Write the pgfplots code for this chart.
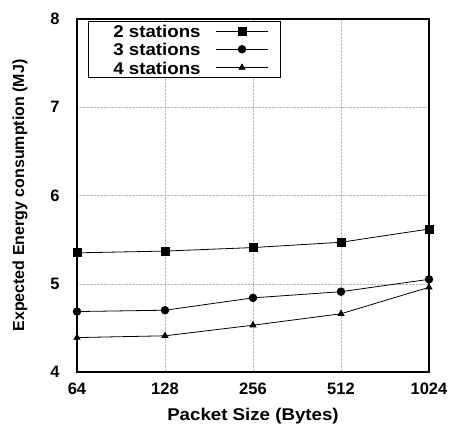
\documentclass[border=0pt]{standalone}
\usepackage{fontspec}
\setmainfont{Liberation Sans}
\newfontfamily\widefont[FakeStretch=1.1]{Liberation Sans}
\usepackage{pgfplots}
\pgfplotsset{compat=1.18}
\begin{document}
\begin{tikzpicture}
\begin{axis}[
  name=ax,
  scale only axis,
  width=352pt, height=353pt,
  xmin=0, xmax=4, ymin=4, ymax=8,
  xtick={0,1,2,3,4},
  xticklabels={64,128,256,512,1024},
  ytick={4,5,6,7,8},
  /pgf/number format/assume math mode=true,
  tick label style={font=\fontsize{16.5pt}{18pt}\selectfont\bfseries},
  xticklabel style={anchor=north, yshift=-7.5pt},
  yticklabel style={anchor=east, xshift=-14pt},
  xlabel={Packet Size (Bytes)},
  ylabel={Expected Energy consumption (MJ)},
  xlabel style={font=\widefont\fontsize{17pt}{19pt}\selectfont\bfseries,
    at={(axis description cs:0.5,-0.125)}, anchor=center},
  ylabel style={font=\fontsize{16pt}{18pt}\selectfont\bfseries,
    at={(axis description cs:-0.162,0.5)}, anchor=center, rotate=0},
  grid=major,
  grid style={densely dotted, gray!55},
  axis line style={line width=1.3pt},
  major tick length=0pt,
  legend style={at={(axis description cs:0.031,0.995)}, anchor=north west, draw=black, line width=0.8pt,
    font=\widefont\fontsize{17pt}{17pt}\selectfont\bfseries,
    inner xsep=12pt, inner ysep=3.3pt,
    nodes={inner sep=0pt, text height=13pt, text depth=0pt},
    row sep=5.3pt, column sep=15pt},
  legend cell align=right,
  legend plot pos=right,
  legend image code/.code={\draw[mark repeat=2,mark phase=2] plot coordinates {(0pt,0pt) (26pt,0pt) (52pt,0pt)};},
]
\addplot[black, line width=0.8pt, mark=square*, mark size=4pt] coordinates {(0,5.35) (1,5.37) (2,5.41) (3,5.47) (4,5.62)};
\addlegendentry{\hspace{13pt}2 stations}
\addplot[black, line width=0.8pt, mark=*, mark size=3.8pt] coordinates {(0,4.685) (1,4.70) (2,4.84) (3,4.91) (4,5.05)};
\addlegendentry{\hspace{13pt}3 stations}
\addplot[black, line width=0.8pt, mark=triangle*, mark size=3.4pt] coordinates {(0,4.39) (1,4.41) (2,4.53) (3,4.66) (4,4.96)};
\addlegendentry{\hspace{13pt}4 stations}
\end{axis}
\path (ax.south west) +(-77pt,-57pt) (ax.north east) +(23pt,19pt);
\end{tikzpicture}
\end{document}
